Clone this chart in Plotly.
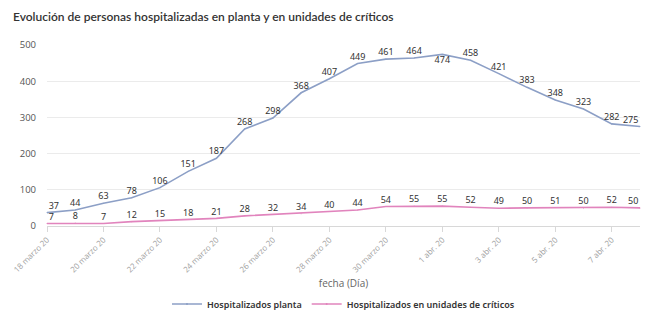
import plotly.graph_objects as go

# Daily series, 18 March to 8 April 2020
fechas = ["18 marzo 20", "19 marzo 20", "20 marzo 20", "21 marzo 20", "22 marzo 20",
          "23 marzo 20", "24 marzo 20", "25 marzo 20", "26 marzo 20", "27 marzo 20",
          "28 marzo 20", "29 marzo 20", "30 marzo 20", "31 marzo 20", "1 abr. 20",
          "2 abr. 20", "3 abr. 20", "4 abr. 20", "5 abr. 20", "6 abr. 20",
          "7 abr. 20", "8 abr. 20"]
planta = [37, 44, 63, 78, 106, 151, 187, 268, 298, 368, 407, 449, 461, 464, 474,
          458, 421, 383, 348, 323, 282, 275]
criticos = [7, 8, 7, 12, 15, 18, 21, 28, 32, 34, 40, 44, 54, 55, 55, 52, 49, 50,
            51, 50, 52, 50]

idx = list(range(len(fechas)))
tick_idx = idx[::2]
tick_text = [fechas[i] for i in tick_idx]

def positions(n, below=()):
    pos = []
    for i in range(n):
        v = "bottom" if i in below else "top"
        if i == 0:
            pos.append(v + " right")
        elif i == n - 1:
            pos.append(v + " left")
        else:
            pos.append(v + " center")
    return pos

label_font = dict(family="Noto Sans", size=9, color="#333333")

fig = go.Figure()
fig.add_trace(go.Scatter(
    x=idx, y=planta, name="Hospitalizados planta", mode="lines+markers+text",
    line=dict(color="#8c9fc6", width=1.6),
    marker=dict(size=1, color="#8c9fc6"),
    text=[str(v) for v in planta], textposition=positions(len(planta), below=(14,)),
    textfont=label_font, cliponaxis=False,
))
fig.add_trace(go.Scatter(
    x=idx, y=criticos, name="Hospitalizados en unidades de críticos", mode="lines+markers+text",
    line=dict(color="#e184bd", width=1.6),
    marker=dict(size=1, color="#e184bd"),
    text=[str(v) for v in criticos], textposition=positions(len(criticos)),
    textfont=label_font, cliponaxis=False,
))

fig.update_layout(
    width=650, height=329,
    margin=dict(l=47, r=10, t=45, b=103, autoexpand=False),
    paper_bgcolor="white", plot_bgcolor="white",
    title=dict(text="Evolución de personas hospitalizadas en planta y en unidades de críticos",
               x=0.02, xanchor="left", y=0.95, yanchor="middle",
               font=dict(family="Lato", size=12, color="#333333", weight=600)),
    showlegend=True,
    legend=dict(orientation="h", x=0.5, xanchor="center",
                yref="container", y=25 / 329, yanchor="middle",
                font=dict(family="Noto Sans", size=9, color="#333333", weight=600),
                itemwidth=30, traceorder="normal"),
)
fig.update_xaxes(
    range=[0, 21], tickvals=tick_idx, ticktext=tick_text, tickangle=-45,
    tickfont=dict(family="Open Sans", size=8, color="#a0a0a0"),
    showgrid=False, zeroline=False, automargin=False,
    showline=True, linecolor="#d8d8d8", linewidth=1,
    ticks="outside", ticklen=5, tickcolor="#d8d8d8",
    title=dict(text="fecha (Día)", font=dict(family="Open Sans", size=10, color="#666666"),
               standoff=6),
)
fig.update_yaxes(
    range=[0, 500], tickvals=[0, 100, 200, 300, 400, 500],
    tickfont=dict(family="Open Sans", size=9.5, color="#555555"),
    showgrid=True, gridcolor="#ebebeb", gridwidth=1, zeroline=False,
    ticklabelstandoff=10, automargin=False,
)

fig.write_html("out.html")
